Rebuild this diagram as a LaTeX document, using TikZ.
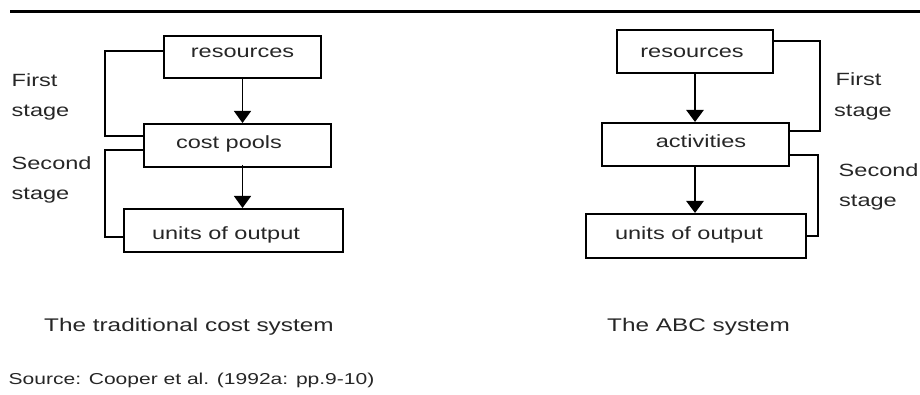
\documentclass[tikz,border=0pt]{standalone}
\usepackage{fontspec}
\setmainfont[FakeStretch=1.33]{Liberation Sans}
\usetikzlibrary{arrows.meta}

\begin{document}
\begin{tikzpicture}[x=1pt, y=-1pt,
  ink/.style={text=black!85},
  box/.style={draw, line width=2pt, inner sep=0pt, ink,
    font=\fontsize{17.7}{20}\selectfont},
  % fixes where the baseline sits inside a box
  tb/.style 2 args={text height=#1pt, text depth=#2pt},
  % moves a box label sideways (half of the given amount)
  nudge/.style={execute at begin node={\hspace*{#1}}},
  thinflow/.style={line width=1.3pt, -{Triangle[length=12pt, width=17pt]}},
  thickflow/.style={line width=2.5pt, -{Triangle[length=12pt, width=17pt]}},
  bracket/.style={line width=2pt, line join=miter},
  side/.style={anchor=base west, inner sep=0pt, ink,
    font=\fontsize{17.7}{20}\selectfont},
  caption/.style={anchor=base west, inner sep=0pt, ink,
    font=\fontsize{18.3}{21}\selectfont},
]
\useasboundingbox (0,0) rectangle (920,395);

% rule across the top
\coordinate (ruleL) at (10,11.5);
\coordinate (ruleR) at (920,11.5);
\draw[line width=3pt] (ruleL) -- (ruleR);

% ---------- traditional cost system ----------
\node[box, minimum width=157pt, minimum height=42pt, tb={15}{14}]
  (lres) at (242.5,57) {resources};
\node[box, minimum width=187pt, minimum height=43pt, tb={15}{9}, nudge=-17pt]
  (lcp) at (237.5,145.5) {cost pools};
\node[box, minimum width=219pt, minimum height=43pt, tb={18}{0}, nudge=-15pt]
  (lout) at (233.5,230.5) {units of output};

\draw[thinflow] (lres.south) -- (lres.south |- lcp.north);
\draw[thinflow] ([yshift=3pt]lres.south |- lcp.south) -- (lres.south |- lout.north);

\coordinate (lspineA) at (105,95);
\coordinate (lspineB) at (105,195);
\draw[bracket] ([yshift=6pt]lres.west) -| (lspineA) |- ([yshift=9.5pt]lcp.west);
\draw[bracket] ([yshift=-4.5pt]lcp.west) -| (lspineB) |- ([yshift=-6.5pt]lout.west);

\node[side] (lfirst)  at (11.5,86.5) {First};
\node[side] (lstage1) at (11.5,116.5) {stage};
\node[side] (lsecond) at (11.5,170) {Second};
\node[side] (lstage2) at (11.5,200) {stage};

\node[caption] (ltitle) at (44,331) {The traditional cost system};

% ---------- ABC system ----------
\node[box, minimum width=156pt, minimum height=43pt, tb={15}{3}, nudge=-6pt]
  (rres) at (695,51.5) {resources};
\node[box, minimum width=187pt, minimum height=43pt, tb={15}{9}, nudge=11pt]
  (ract) at (695.5,144.5) {activities};
\node[box, minimum width=220pt, minimum height=44pt, tb={15}{8}, nudge=-14pt]
  (rout) at (696,236) {units of output};

\draw[thickflow] (rres.south) -- (rres.south |- ract.north);
\draw[thickflow] (rres.south |- ract.south) -- (rres.south |- rout.north);

\coordinate (rspineA) at (820,90);
\coordinate (rspineB) at (818,195);
\draw[bracket] ([yshift=10.5pt]rres.east) -| (rspineA) |- ([yshift=13.5pt]ract.east);
\draw[bracket] ([yshift=-10.5pt]ract.east) -| (rspineB) |- (rout.east);

\node[side] (rfirst)  at (835.5,86) {First};
\node[side] (rstage1) at (834,117) {stage};
\node[side] (rsecond) at (838.5,177) {Second};
\node[side] (rstage2) at (839,207) {stage};

\node[caption] (rtitle) at (607,331) {The ABC system};

% source line
\node[anchor=base west, inner sep=0pt, ink, font=\fontsize{15.8}{18}\selectfont]
  (source) at (8.5,384) {Source: Cooper et al. (1992a: pp.9-10)};
\end{tikzpicture}
\end{document}
